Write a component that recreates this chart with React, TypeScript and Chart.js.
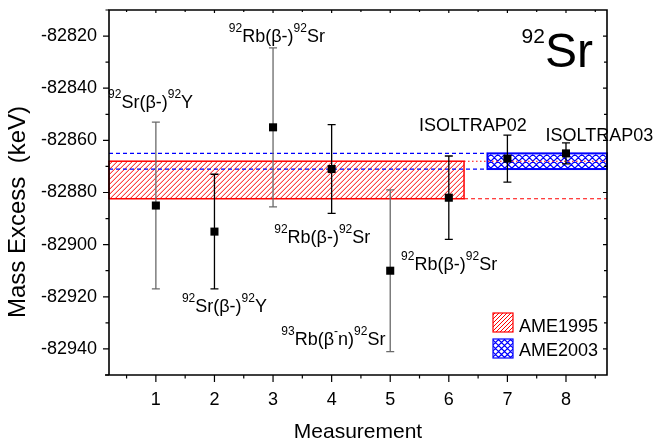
import React, { useEffect, useRef } from "react";
import { Chart, registerables } from "chart.js";

Chart.register(...registerables);

const FONT = "'Liberation Sans', Arial, Helvetica, sans-serif";

// ---- data ----
const measurements = [1, 2, 3, 4, 5, 6, 7, 8];
const massExcess = [-82885, -82895, -82855, -82871, -82910, -82882, -82867, -82865];
const uncertainties = [32, 22, 30.5, 17, 31, 16, 9, 4];
const errorBarColors = ["#6a6a6a", "#000000", "#6a6a6a", "#000000", "#6a6a6a", "#000000", "#000000", "#000000"];

const xTickValues = [1, 2, 3, 4, 5, 6, 7, 8];
const yTickValues = [-82940, -82920, -82900, -82880, -82860, -82840, -82820];
const xMin = 0.2;
const xMax = 8.7;
const yMin = -82950;
const yMax = -82810;

const bandNames = ["AME1995", "AME2003"];
const bandLow = [-82882.4, -82871];
const bandHigh = [-82868, -82865];
const bandXStart = [0.2, 6.66];
const bandXEnd = [6.26, 8.7];
const bandColors = ["#ff0000", "#0000ff"];

type Seg = { t: string; sup?: boolean };
const labelTexts: Seg[][] = [
  [{ t: "92", sup: true }, { t: "Sr(β-)" }, { t: "92", sup: true }, { t: "Y" }],
  [{ t: "92", sup: true }, { t: "Rb(β-)" }, { t: "92", sup: true }, { t: "Sr" }],
  [{ t: "92", sup: true }, { t: "Rb(β-)" }, { t: "92", sup: true }, { t: "Sr" }],
  [{ t: "92", sup: true }, { t: "Sr(β-)" }, { t: "92", sup: true }, { t: "Y" }],
  [{ t: "93", sup: true }, { t: "Rb(β" }, { t: "-", sup: true }, { t: "n)" }, { t: "92", sup: true }, { t: "Sr" }],
  [{ t: "92", sup: true }, { t: "Rb(β-)" }, { t: "92", sup: true }, { t: "Sr" }],
  [{ t: "ISOLTRAP02" }],
  [{ t: "ISOLTRAP03" }],
];
const labelX = [0.91, 3.065, 3.84, 2.17, 4.03, 6.005, 6.41, 8.57];
const labelY = [-82847.4, -82822.2, -82899.3, -82925.7, -82938.6, -82909.7, -82856.3, -82860.2];

const nuclideText: Seg[] = [{ t: "92", sup: true }, { t: "Sr" }];
const nuclideX = 8.46;
const nuclideY = -82831.8;

const xTitle = "Measurement";
const yTitle = "Mass Excess  (keV)";

function hatchRect(
  ctx: CanvasRenderingContext2D,
  x: number,
  y: number,
  w: number,
  h: number,
  color: string,
  cross: boolean,
  spacing: number,
  lw: number
) {
  ctx.save();
  ctx.beginPath();
  ctx.rect(x, y, w, h);
  ctx.clip();
  ctx.fillStyle = "#ffffff";
  ctx.fillRect(x, y, w, h);
  ctx.strokeStyle = color;
  ctx.lineWidth = lw;
  ctx.setLineDash([]);
  ctx.beginPath();
  const start = Math.floor((x - h) / spacing) * spacing;
  for (let s = start; s < x + w + h; s += spacing) {
    ctx.moveTo(s, y + h);
    ctx.lineTo(s + h, y);
    if (cross) {
      ctx.moveTo(s, y);
      ctx.lineTo(s + h, y + h);
    }
  }
  ctx.stroke();
  ctx.restore();
}

function drawRich(
  ctx: CanvasRenderingContext2D,
  segs: Seg[],
  x: number,
  baseline: number,
  size: number,
  supSize: number,
  raise: number,
  align: "center" | "right" | "left"
) {
  const mainFont = `${size}px ${FONT}`;
  const supFont = `${supSize}px ${FONT}`;
  ctx.textAlign = "left";
  ctx.textBaseline = "alphabetic";
  let w = 0;
  for (const s of segs) {
    ctx.font = s.sup ? supFont : mainFont;
    w += ctx.measureText(s.t).width;
  }
  let cx = align === "center" ? x - w / 2 : align === "right" ? x - w : x;
  for (const s of segs) {
    ctx.font = s.sup ? supFont : mainFont;
    ctx.fillText(s.t, cx, s.sup ? baseline - raise : baseline);
    cx += ctx.measureText(s.t).width;
  }
}

export default function App() {
  const ref = useRef<HTMLCanvasElement | null>(null);

  useEffect(() => {
    const canvas = ref.current;
    if (!canvas) return;

    const crossFlags = [false, true];
    const spacings = [5, 7];
    const hatchWidths = [1, 1.2];

    const bandsPlugin = {
      id: "bandsAndErrors",
      beforeDatasetsDraw(chart: any) {
        const ctx: CanvasRenderingContext2D = chart.ctx;
        const xs = chart.scales.x;
        const ys = chart.scales.y;
        const area = chart.chartArea;
        ctx.save();
        for (let i = 0; i < bandNames.length; i++) {
          const x0 = xs.getPixelForValue(bandXStart[i]);
          const x1 = xs.getPixelForValue(bandXEnd[i]);
          const y0 = ys.getPixelForValue(bandHigh[i]);
          const y1 = ys.getPixelForValue(bandLow[i]);
          hatchRect(ctx, x0, y0, x1 - x0, y1 - y0, bandColors[i], crossFlags[i], spacings[i], hatchWidths[i]);
          ctx.strokeStyle = bandColors[i];
          ctx.lineWidth = i === 0 ? 1.5 : 2;
          ctx.setLineDash([]);
          ctx.strokeRect(x0, y0, x1 - x0, y1 - y0);
        }
        // extension lines of AME1995 (red) to the right
        const rEnd = xs.getPixelForValue(bandXEnd[0]);
        ctx.strokeStyle = bandColors[0];
        ctx.lineWidth = 1.1;
        ctx.setLineDash([4, 3]);
        ctx.beginPath();
        ctx.moveTo(rEnd, ys.getPixelForValue(bandLow[0]));
        ctx.lineTo(area.right, ys.getPixelForValue(bandLow[0]));
        ctx.stroke();
        ctx.setLineDash([1.5, 2.5]);
        ctx.beginPath();
        ctx.moveTo(rEnd, ys.getPixelForValue(bandHigh[0]));
        ctx.lineTo(area.right, ys.getPixelForValue(bandHigh[0]));
        ctx.stroke();
        // extension lines of AME2003 (blue) to the left
        const bStart = xs.getPixelForValue(bandXStart[1]);
        ctx.strokeStyle = bandColors[1];
        ctx.lineWidth = 1.2;
        ctx.setLineDash([4, 3]);
        for (const v of [bandLow[1], bandHigh[1]]) {
          ctx.beginPath();
          ctx.moveTo(area.left, ys.getPixelForValue(v));
          ctx.lineTo(bStart, ys.getPixelForValue(v));
          ctx.stroke();
        }
        ctx.setLineDash([]);
        // error bars
        for (let i = 0; i < measurements.length; i++) {
          const px = xs.getPixelForValue(measurements[i]);
          const top = ys.getPixelForValue(massExcess[i] + uncertainties[i]);
          const bot = ys.getPixelForValue(massExcess[i] - uncertainties[i]);
          ctx.strokeStyle = errorBarColors[i];
          ctx.lineWidth = 1.3;
          ctx.beginPath();
          ctx.moveTo(px, top);
          ctx.lineTo(px, bot);
          ctx.moveTo(px - 4, top);
          ctx.lineTo(px + 4, top);
          ctx.moveTo(px - 4, bot);
          ctx.lineTo(px + 4, bot);
          ctx.stroke();
        }
        ctx.restore();
      },
      afterDatasetsDraw(chart: any) {
        const ctx: CanvasRenderingContext2D = chart.ctx;
        const xs = chart.scales.x;
        const ys = chart.scales.y;
        const area = chart.chartArea;
        ctx.save();
        ctx.fillStyle = "#000";
        for (let i = 0; i < labelTexts.length; i++) {
          drawRich(ctx, labelTexts[i], xs.getPixelForValue(labelX[i]), ys.getPixelForValue(labelY[i]), 18, 12, 10, "center");
        }
        drawRich(ctx, nuclideText, xs.getPixelForValue(nuclideX), ys.getPixelForValue(nuclideY), 48, 21, 23.5, "right");

        // legend
        const lx = area.right - 114;
        const boxTops = [area.bottom - 62, area.bottom - 36];
        const baselines = [area.bottom - 43.5, area.bottom - 19];
        for (let i = 0; i < bandNames.length; i++) {
          hatchRect(ctx, lx, boxTops[i], 20, 19, bandColors[i], crossFlags[i], spacings[i] - 1, hatchWidths[i]);
          ctx.strokeStyle = bandColors[i];
          ctx.lineWidth = 1.2;
          ctx.strokeRect(lx, boxTops[i], 20, 19);
          ctx.fillStyle = "#000";
          ctx.font = `18px ${FONT}`;
          ctx.textAlign = "left";
          ctx.textBaseline = "alphabetic";
          ctx.fillText(bandNames[i], lx + 26, baselines[i]);
        }

        // frame
        ctx.strokeStyle = "#000";
        ctx.lineWidth = 1.6;
        ctx.beginPath();
        ctx.moveTo(area.left - 4, area.bottom);
        ctx.lineTo(area.right, area.bottom);
        ctx.lineTo(area.right, area.top);
        ctx.lineTo(area.left, area.top);
        ctx.lineTo(area.left, area.bottom);
        ctx.stroke();

        // ticks
        ctx.lineWidth = 1.2;
        ctx.beginPath();
        const yStep = yTickValues[1] - yTickValues[0];
        for (let v = yTickValues[0] - yStep / 2; v <= yMax + 1e-6; v += yStep / 2) {
          if (v < yMin - 1e-6) continue;
          const py = ys.getPixelForValue(v);
          const major = yTickValues.some((t) => Math.abs(t - v) < 1e-6);
          ctx.moveTo(area.left, py);
          ctx.lineTo(area.left - (major ? 6 : 3.5), py);
          if (py > area.top + 1 && py < area.bottom - 1) {
            ctx.moveTo(area.right, py);
            ctx.lineTo(area.right - (major ? 4 : 3), py);
          }
        }
        const xStep = xTickValues[1] - xTickValues[0];
        for (let v = xTickValues[0] - xStep / 2; v <= xMax + 1e-6; v += xStep / 2) {
          if (v < xMin - 1e-6) continue;
          const px = xs.getPixelForValue(v);
          const major = xTickValues.some((t) => Math.abs(t - v) < 1e-6);
          ctx.moveTo(px, area.bottom);
          ctx.lineTo(px, area.bottom + (major ? 7 : 3.5));
          ctx.moveTo(px, area.top);
          ctx.lineTo(px, area.top + (major ? 3 : 2));
        }
        ctx.stroke();

        // axis titles
        ctx.fillStyle = "#000";
        ctx.font = `21px ${FONT}`;
        ctx.textAlign = "center";
        ctx.textBaseline = "alphabetic";
        ctx.fillText(xTitle, (area.left + area.right) / 2, area.bottom + 63);
        ctx.save();
        ctx.translate(25, 212);
        ctx.rotate(-Math.PI / 2);
        ctx.font = `24px ${FONT}`;
        ctx.fillText(yTitle, 0, 0);
        ctx.restore();
        ctx.restore();
      },
    };

    const chart = new Chart(canvas, {
      type: "scatter",
      data: {
        datasets: [
          {
            data: measurements.map((x, i) => ({ x, y: massExcess[i] })),
            pointStyle: "rect",
            pointRadius: 5.7,
            backgroundColor: "#000",
            borderColor: "#000",
            borderWidth: 0,
            showLine: false,
          },
        ],
      },
      options: {
        animation: false,
        responsive: false,
        events: [],
        layout: { padding: { top: 10, right: 48, left: 0, bottom: 0 } },
        plugins: { legend: { display: false }, tooltip: { enabled: false } },
        scales: {
          x: {
            type: "linear",
            min: xMin,
            max: xMax,
            grid: { display: false, drawTicks: false },
            border: { display: false },
            ticks: {
              color: "#000",
              font: { family: FONT, size: 18 },
              padding: 14,
              maxRotation: 0,
              callback: (v: any) => String(v),
            },
            afterBuildTicks: (scale: any) => {
              scale.ticks = xTickValues.map((v) => ({ value: v }));
            },
            afterFit: (scale: any) => {
              scale.height = 68;
              scale.paddingLeft = 0;
              scale.paddingRight = 0;
            },
          },
          y: {
            type: "linear",
            min: yMin,
            max: yMax,
            grid: { display: false, drawTicks: false },
            border: { display: false },
            ticks: {
              color: "#000",
              font: { family: FONT, size: 18 },
              padding: 12,
              callback: (v: any) => String(v),
            },
            afterBuildTicks: (scale: any) => {
              scale.ticks = yTickValues.map((v) => ({ value: v }));
            },
            afterFit: (scale: any) => {
              scale.width = 109;
              scale.paddingTop = 0;
              scale.paddingBottom = 0;
            },
          },
        },
      },
      plugins: [bandsPlugin],
    });

    return () => {
      chart.destroy();
    };
  }, []);

  return (
    <div style={{ position: "fixed", left: 0, top: 0, width: 655, height: 443, background: "#fff" }}>
      <canvas ref={ref} width={655} height={443} style={{ display: "block" }} />
    </div>
  );
}
